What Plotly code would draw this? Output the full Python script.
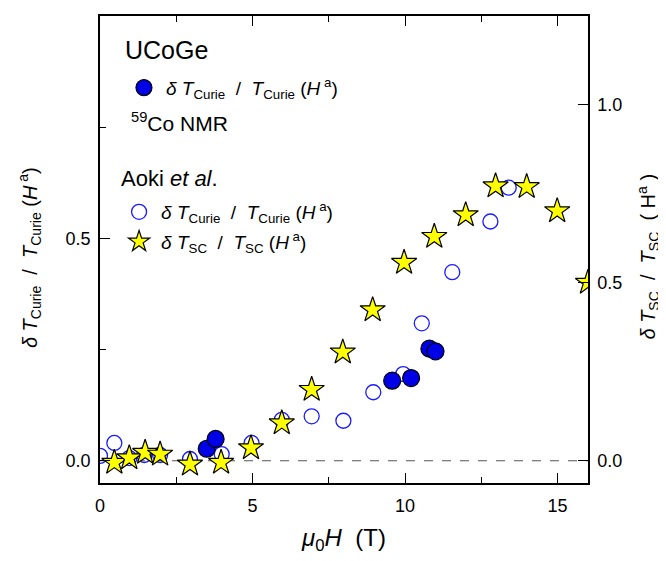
import plotly.graph_objects as go

# NMR data (filled circles), left axis
nmr_field = [3.50, 3.79, 9.58, 10.2, 10.8, 11.0]
nmr_dtc = [0.027, 0.049, 0.180, 0.186, 0.252, 0.246]

# Aoki et al. Curie (open circles), left axis
aoki_field = [0.0, 0.47, 0.96, 1.45, 1.97, 2.95, 3.99, 4.97, 5.96, 6.94, 7.98, 8.96, 9.94, 10.55, 11.55, 12.8, 13.4]
aoki_dtc = [0.011, 0.040, 0.006, 0.013, 0.013, 0.004, 0.015, 0.040, 0.092, 0.100, 0.090, 0.154, 0.195, 0.309, 0.424, 0.538, 0.614]

# Aoki et al. SC (stars), right axis
sc_field = [0.47, 0.96, 1.48, 1.97, 2.95, 3.97, 4.95, 5.96, 6.94, 7.96, 8.94, 9.97, 10.96, 11.99, 12.97, 13.99, 14.99, 16.0]
sc_dtsc = [-0.005, 0.008, 0.023, 0.018, -0.010, -0.005, 0.036, 0.106, 0.200, 0.305, 0.424, 0.557, 0.630, 0.691, 0.772, 0.770, 0.702, 0.501]

x_ticks = [0, 5, 10, 15]
y_ticks = [0.0, 0.5, 1.0]

FONT = "Liberation Sans, Arial, sans-serif"
curie_txt = "<i>δ T</i><sub>Curie</sub>  /  <i>T</i><sub>Curie</sub> (<i>H</i><sup> a</sup>)"
sc_txt = "<i>δ T</i><sub>SC</sub>  /  <i>T</i><sub>SC</sub> (<i>H</i><sup> a</sup>)"

fig = go.Figure()

fig.add_trace(go.Scatter(
    x=aoki_field, y=aoki_dtc, mode="markers", name=curie_txt,
    marker=dict(symbol="circle-open", size=15, color="#1a1aff", line=dict(width=1.3, color="#1a1aff")),
    legend="legend2", legendrank=1, legendgroup="a", showlegend=True,
))
fig.add_trace(go.Scatter(
    x=sc_field, y=sc_dtsc, mode="markers", name=sc_txt, yaxis="y2",
    marker=dict(symbol="star", size=19, color="#ffff00", line=dict(width=1.2, color="black")),
    legend="legend2", legendrank=2, legendgroup="b", showlegend=True,
))
fig.add_trace(go.Scatter(
    x=nmr_field, y=nmr_dtc, mode="markers", name=curie_txt,
    marker=dict(symbol="circle", size=17, color="#0000e6", line=dict(width=1.2, color="black")),
    legend="legend", showlegend=True,
))

fig.add_shape(type="line", xref="x domain", yref="y", x0=0, x1=1, y0=0, y1=0,
              line=dict(color="#555555", width=1, dash="dash"), layer="below")

axis_common = dict(
    showline=True, linecolor="black", linewidth=1.5,
    ticks="inside", ticklen=10, tickwidth=1.3, tickcolor="black",
    showgrid=False, zeroline=False, automargin=False,
    tickfont=dict(family=FONT, size=18, color="black"),
)

fig.update_layout(
    width=658, height=553,
    margin=dict(l=92, r=78, t=8, b=78),
    showlegend=True,
    plot_bgcolor="white", paper_bgcolor="white",
    font=dict(family=FONT, size=18, color="black"),
    xaxis=dict(
        range=[0, 16], tickvals=x_ticks, mirror="ticks", ticklabelstandoff=6,
        minor=dict(dtick=2.5, tick0=0, ticks="inside", ticklen=6, tickcolor="black", tickwidth=1.3),
        title=dict(text="<i>μ</i><sub>0</sub><i>H</i>  (T)", font=dict(size=24), standoff=14),
        **axis_common,
    ),
    yaxis=dict(
        range=[-0.05, 1.0], tickvals=y_ticks, tickformat=".1f", ticklabelstandoff=4,
        minor=dict(dtick=0.25, tick0=0, ticks="inside", ticklen=6, tickcolor="black", tickwidth=1.3),
        **axis_common,
    ),
    yaxis2=dict(
        range=[-0.0625, 1.25], tickvals=y_ticks, tickformat=".1f", ticklabelstandoff=4,
        overlaying="y", side="right",
        **axis_common,
    ),
    legend=dict(
        x=0.045, y=0.887, xanchor="left", yanchor="top",
        bgcolor="rgba(0,0,0,0)", font=dict(size=19), itemwidth=34,
    ),
    legend2=dict(
        x=0.035, y=0.621, xanchor="left", yanchor="top",
        bgcolor="rgba(0,0,0,0)", font=dict(size=19), tracegroupgap=2, itemwidth=34,
    ),
    annotations=[
        dict(text="UCoGe", xref="paper", yref="paper", x=0.048, y=0.927,
             xanchor="left", yanchor="middle", showarrow=False, font=dict(size=25)),
        dict(text="<sup>59</sup>Co NMR", xref="paper", yref="paper", x=0.06, y=0.774,
             xanchor="left", yanchor="middle", showarrow=False, font=dict(size=21)),
        dict(text="Aoki <i>et al</i>.", xref="paper", yref="paper", x=0.038, y=0.653,
             xanchor="left", yanchor="middle", showarrow=False, font=dict(size=22)),
        dict(text=curie_txt, xref="paper", yref="paper", x=-0.143, y=0.482, textangle=-90,
             xanchor="center", yanchor="middle", showarrow=False, font=dict(size=20)),
        dict(text="<i>δ T</i><sub>SC</sub>  /  <i>T</i><sub>SC</sub>  ( H<sup>a</sup> )",
             xref="paper", yref="paper", x=1.123, y=0.485, textangle=-90,
             xanchor="center", yanchor="middle", showarrow=False, font=dict(size=20)),
    ],
)

fig.write_html("out.html")
